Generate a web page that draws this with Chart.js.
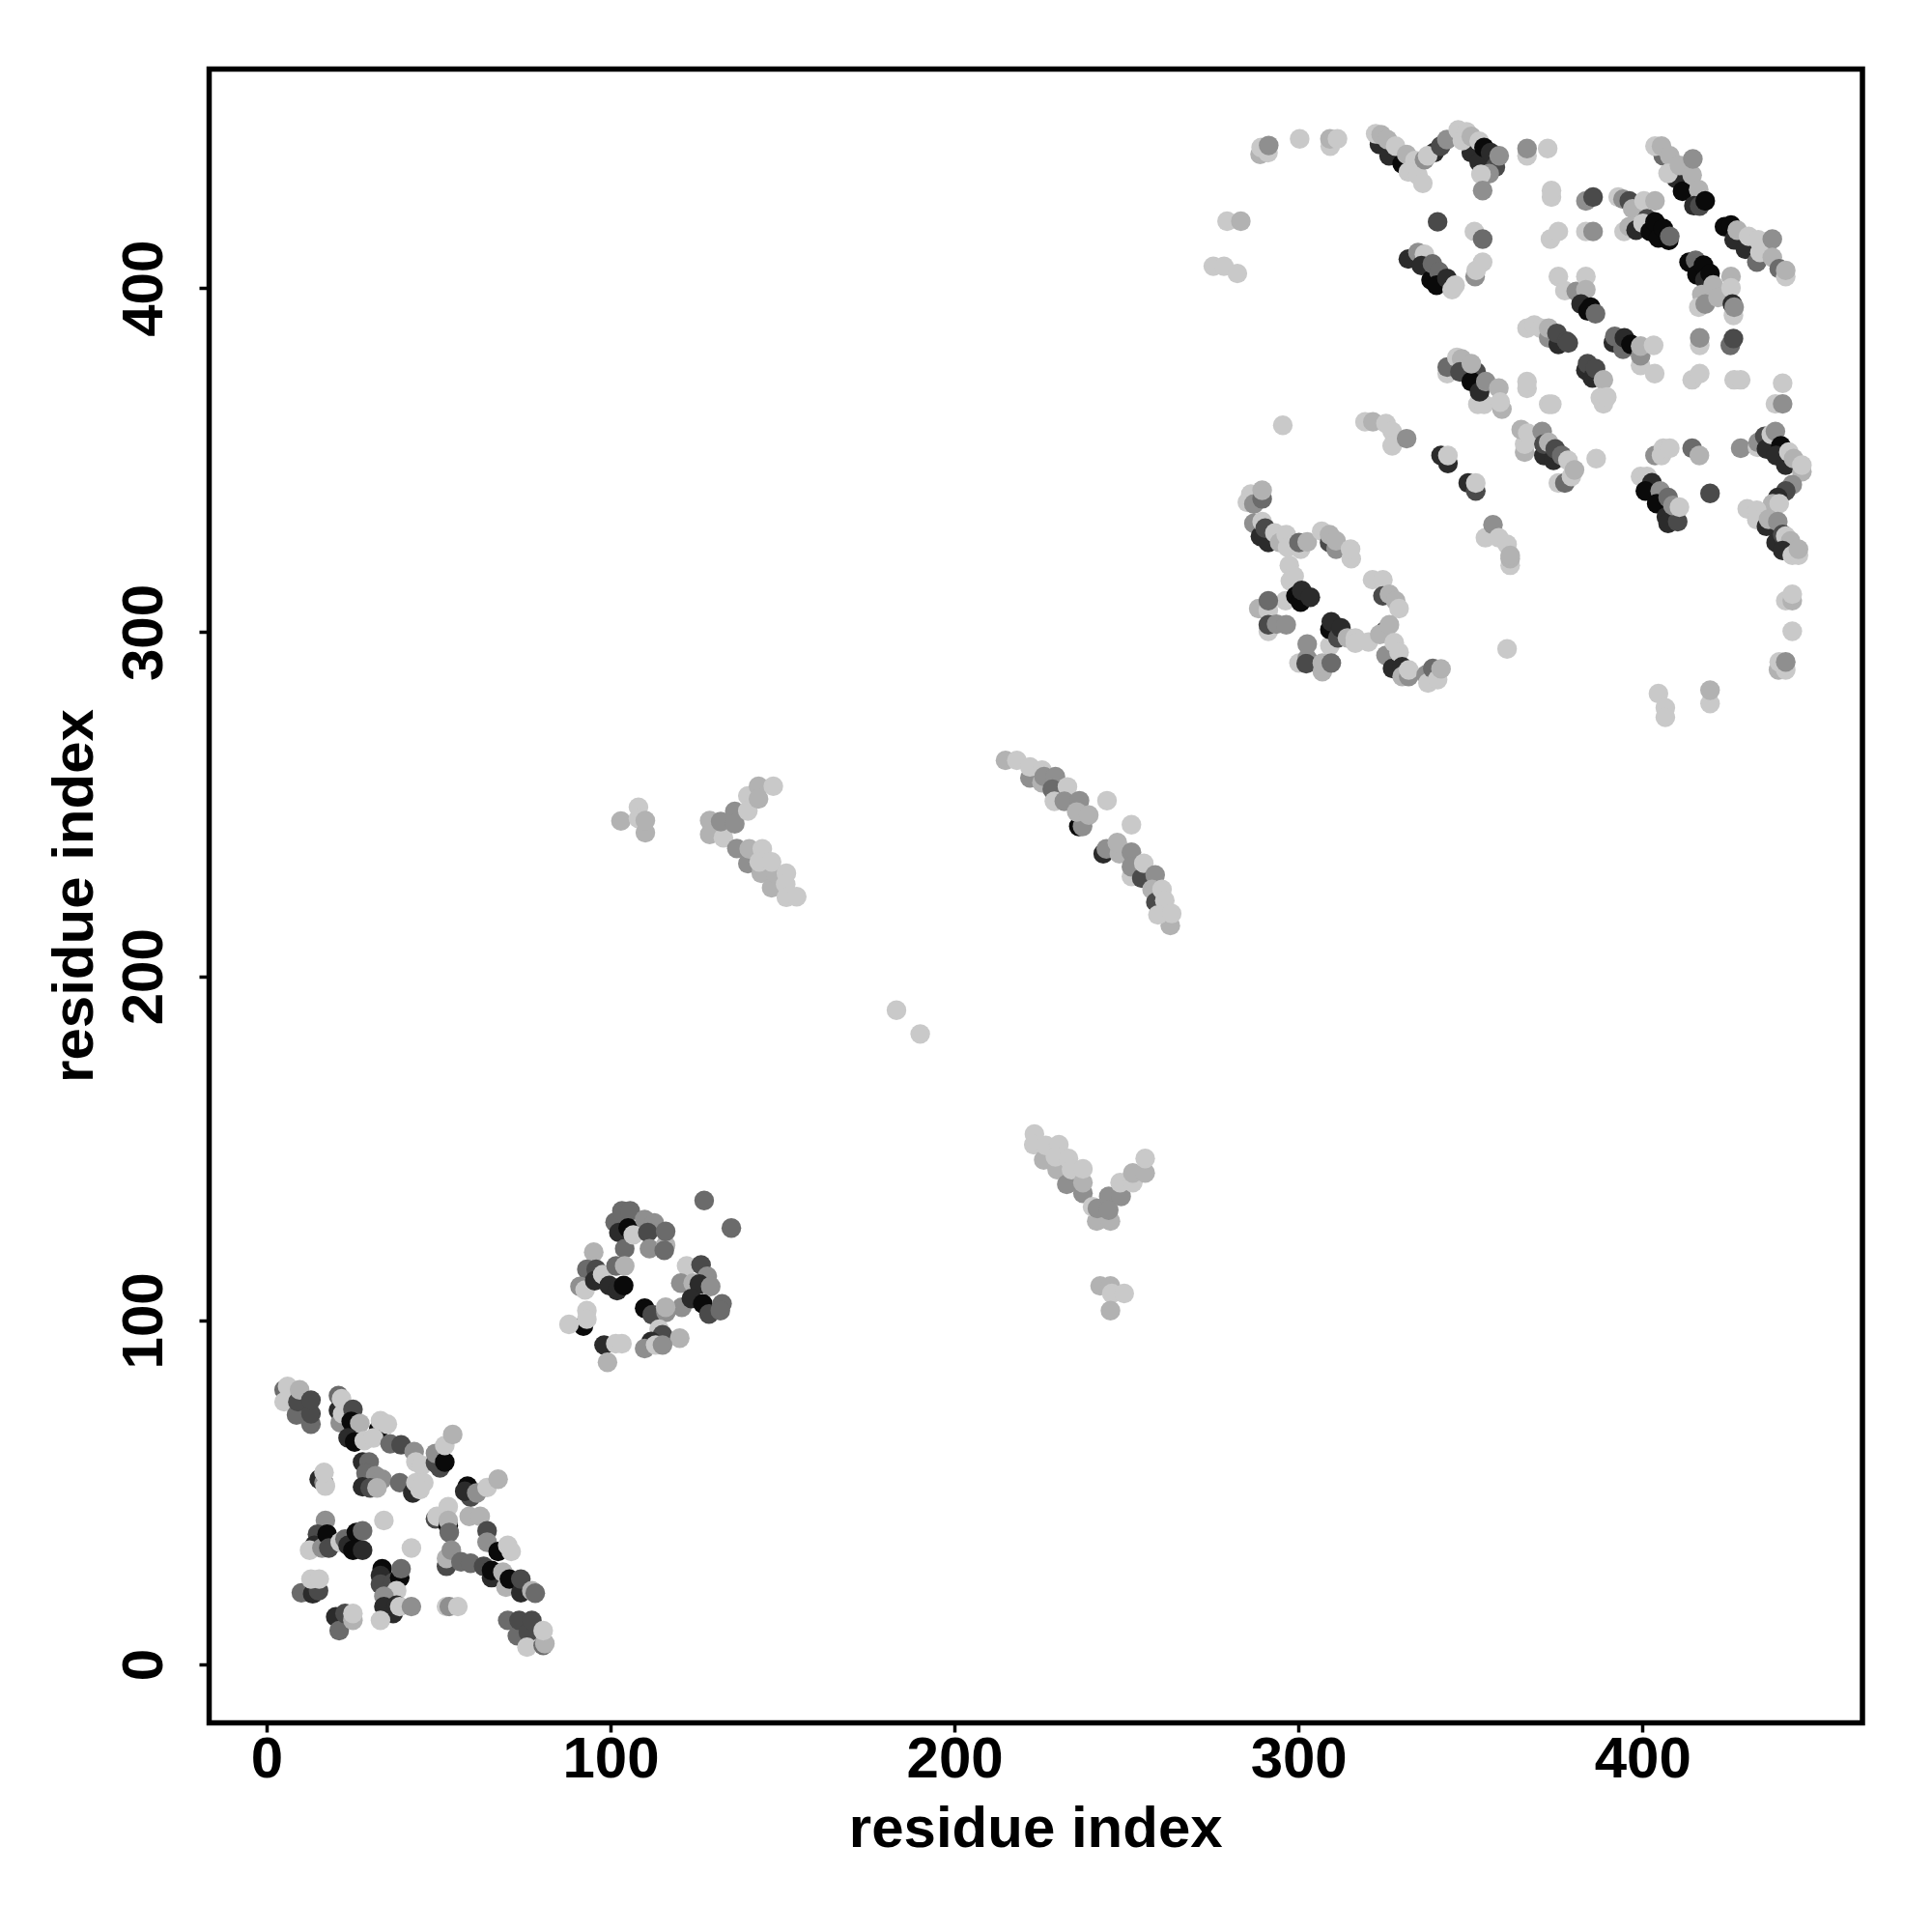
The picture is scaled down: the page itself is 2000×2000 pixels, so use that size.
<!DOCTYPE html>
<html>
<head>
<meta charset="utf-8">
<style>
  html, body { margin: 0; padding: 0; background: #fff; }
  canvas { display: block; }
</style>
<script src="https://cdn.jsdelivr.net/npm/chart.js@4/dist/chart.umd.min.js"></script>
</head>
<body>
<canvas id="contactMap" width="2000" height="2000"></canvas>
<script>
// each contact is [residue x, residue y, strength 1..7]
const helixBundleA = [
[5,80,4],[5,76.5,1],[6,81,1],[8.6,72.7,4],[9,76.5,5],[9.5,80,2],[12.8,70,4],[12.8,73,5],[12.8,77,5],
[20.8,78.3,4],[20.8,74,6],[21.7,77.4,1],[21.3,70.4,3],[22,73,1],[25,74.3,5],[24.5,70.8,7],[27,70.2,2],[23.6,66,6],[25.5,64.8,7],[28.3,65.2,1],
[32.5,68.5,7],[33,71,1],[35,70,1],[31,66,1],[35.8,64.3,4],[39,64,5],[42.8,62,3],[43.3,59,1],[45,58,1],
[27.8,59,6],[29.7,59,4],[28.8,55.8,4],[31.6,55,3],[33.5,54,3],[27.8,51.8,6],[30,51.5,5],[32,51.5,2],
[38.6,53,4],[42.4,50,6],[43.3,53,1],[45.6,53,1],[44.5,51,1],
[15.2,54,6],[16.6,53,3],[17,52,1],[16.6,56,1],
[49,58.7,5],[50.3,57.3,5],[49,61.5,3],[51.7,59,7],[51.7,63.8,1],[54,67,2],
[58.3,52,7],[59.2,48.8,5],[57.5,50.5,6],[61,50,3],[64,51.6,1],[67.2,54,2],
[49,42.5,5],[49.4,43.2,1],[52.7,40.5,7],[52.7,46,1],[52.7,42,2],[53,38.5,4],[58.8,43.2,2],[62,43.2,2],
[64,39,5],[64,35.7,3],[67.2,33,7],[70,34.8,1],[71,33,1],
[52.2,28.7,5],[52.2,31,2],[53.6,33.4,3],[56.4,30,4],[59.2,29.6,4],[63,28.7,5],[65.3,25.4,6],[65.3,27.5,7],[68.6,27,2],
[69.5,22.6,2],[70.5,25,7],[73.8,21,6],[73.8,25,5],[77,21.6,2],[78,20.9,4],
[70,13,4],[72.8,8.5,4],[73.3,13,5],[76,9.5,5],[77,13,5],[75.6,5.2,1],[80.3,5.7,4],[80.8,6.2,2],[80.3,10,1],
[17,42,3],[14.7,38,5],[13.8,34.8,6],[12.4,33.4,1],[16,34,3],[17.5,38,7],[18,34,5],[21.3,35.7,1],[22.7,36.6,4],[23.6,34.8,6],[26,38.5,7],[25,33.4,7],[27.8,33.4,6],[27.8,39,4],
[34,42,1],[42,34,1],
[33.5,28,7],[33,26,6],[33,23.5,5],[36.7,24,5],[38.6,25.4,7],[39,28,4],[37.7,21.6,1],[34,20,3],[34,17,6],[36.7,15,6],[37.7,17.4,6],[33,13,1],[38.6,17,1],[42,17,3],
[52.2,17,1],[53,17,3],[55.5,17,1],
[10,21,4],[13.3,20.7,6],[15,21.6,5],[12.8,25,1],[15.2,25,1],
[20,14,6],[21,10,4],[22.7,15,5],[25,13,2],[25,15,1]
];

const helixBundleB = [
[127.1,135,4],[135,127,4],
[101.2,128.7,4],[103.2,132,4],[105.6,132,4],[102.3,125.7,6],[104,121,4],[105,127,7],[106.5,125,1],
[109.8,129.5,3],[112.6,128.5,3],[110.7,125.7,5],[111.2,121,3],[115.9,122,2],[115.5,120.5,4],[115.9,126,4],
[95,120,2],[93,115,4],[95.7,115,5],[91,110,3],[92.5,109,1],[95.3,111.7,6],[97.6,113.5,1],[99.5,110.3,6],[101.8,108.8,6],[103.7,110.3,7],[101.5,116,4],[104,116,2],
[122,116,1],[126.2,116.3,5],[128,113,3],[120.3,111,3],[123.9,111,2],[125.7,110.7,6],[129,110,3],
[120.6,104,3],[123.4,106.5,6],[126.7,105,7],[128.5,102,5],[132.3,105,4],[131.8,103,4],
[109.8,103.7,7],[112,101.8,5],[116,102.5,3],[115.9,104,2],[114,97.6,1],[115,96,5],[120,95,2],[111.7,94,6],[109.8,92,3],[113,93,1],[115,93,3],
[92,98.5,7],[87.8,99,1],[93,103,1],[93,100.5,1],
[98,93,6],[99,88,2],[101.4,93.4,1],[103.2,93.4,1]
];

const strandCross = [
[183,190.3,1],[189.9,183.4,1]
];

const leftArrow = [
[102.9,245.3,2],[108,249.3,1],[108,246,1],[110,241.9,2],[110,245.4,2],
[128.7,245.4,2],[128.7,241.4,2],[132.7,240.4,1],[131.9,245.1,3],[136,248.1,3],[136,244.5,3],[139.8,252.6,1],[139.8,248.2,1],[142.9,255.4,2],[142.9,251.7,2],[147.2,255.4,1],
[136.6,237.3,3],[139.8,232.9,3],[140.2,237.2,2],[144,237.2,1],[143.7,230.1,2],[143.1,233.4,1],[146.7,225.9,2],[147.8,230.1,2],[146.7,233.4,1],[151,230.1,1],[150.8,226.9,1],[151,223.1,1],[154,223.3,1]
];

const arcStrand = [
[214.7,262.9,2],[218,262.9,1],[221.8,257.8,3],[221.8,261,1],[225.3,256.4,2],[225.3,260.1,1],[225.9,258.2,3],[229.2,258.2,3],[228.3,254.5,4],[232.7,255.2,1],
[228.9,251,1],[231.8,251,3],[236.2,251.2,3],[244.2,251.2,1],[251.3,244.2,1],
[236,243.7,7],[237.1,243.7,3],[235.4,247.9,2],[238.9,247,2],
[243.1,235.8,6],[244,237.2,3],[247.8,235.8,2],[247.2,239,2],[251.3,229.2,1],[251.3,236.2,3],[251.3,232,3],[254.3,228.7,5],[254.9,233,1],
[258.2,229.6,3],[257.3,225.4,2],[258.4,221.7,5],[260.2,225.4,1],[261,222.2,1],[262.6,214.9,2],[259,218,1],[263,218.4,1]
];

const vStrand = [
[223.1,154.3,1],[222.9,151.2,1],[225.8,146.8,2],[226.4,151,1],[229.7,144,2],[230.2,151.2,1],[229.2,147.7,1],[232.5,139.7,3],[233,147.2,1],[233.9,144,1],[237.2,137.1,3],[237.2,140.2,2],[237.2,144.2,1],
[241.2,129,2],[245.2,129,2],[240,133.2,1],[241.4,132.7,3],[244.7,136.2,3],[244.7,132.2,3],[248.3,136.2,3],[248,140.2,1],[251.7,140.2,1],[251.7,143,2],[255.3,143,2],[255.3,147.2,1],
[242.2,110.2,2],[245.2,110.2,2],[245.6,108,1],[249.2,108,1],[245.2,103,2]
];

const topLeftRun = [
[288.7,439,2],[289,441,1],[291,439.5,1],[291.2,441.6,3],[300.2,443.5,1],[309.1,441.4,1],[309,443.5,2],[311.2,443.5,1],
[279.1,419.6,1],[283.1,419.6,2],[275.1,406.5,1],[278.2,406.5,1],[282.1,404.4,1],
[323.4,441.9,6],[322.3,445,1],[323.9,444.7,2],[326.2,438.6,6],[325.7,443.3,2],[330,436.3,7],[328.1,441.4,1],[331.3,439,2],[333.7,437.2,1],[331.8,433.9,1],[334.6,433,1],[336,430.6,1],
[336.5,437.5,3],[339.3,439.5,6],[337.4,438.6,1],[341.2,441.4,5],[343,443.3,3],
[350.1,439.5,6],[352.4,436.7,6],[346.3,446.1,1],[348.7,445.6,1],[347.5,443,1],[350.1,444.2,2],[352.4,442.8,1],[353.8,441,7],[355.7,439.5,6],[357.1,435.3,5],[355.3,433.4,3],[352.9,433.2,1],[358.2,438.6,3],
[353.4,428.5,3],[340.3,419.4,5],[351,416.6,1],[353.4,414.4,4],[351.2,403.5,3],[353.4,407.7,1],[351.5,405.3,1],
[331.8,408.6,6],[334.6,410.5,3],[336.5,410,1],[335.6,406.7,6],[338.4,402.5,7],[338.8,407.2,4],[340.7,404.9,4],[340,401,7],[343,403,6],[344.5,399.7,1],[345.4,401,1]
];

const topRightRun = [
[366.3,438.6,1],[366.3,440.7,3],[372.3,440.7,1],[373.4,426.6,1],[373.4,428.5,1],[383.4,425.5,3],[385.5,426.6,5],[373.1,414.4,1],[375.4,416.6,1],[383.4,416.6,1],[385.5,416.6,3],
[392.8,426.6,1],[394.2,426,3],[396,425.5,5],[397,423.2,2],[394.5,416.6,1],[396,418,2],[398,417,6],[400.3,425.5,1],[403.5,425.5,2],[401.2,420.3,5],[400,419,1],
[402.1,416.6,7],[403.5,419.4,7],[404.5,414.7,7],[405.9,417.5,7],[407.5,414,7],[407.8,415.2,4],
[405.9,438.6,4],[403.5,441.4,1],[405.4,441.4,2],[407.8,438.6,2],[409.6,432,6],[407.3,433.5,1],[411.5,428.3,7],[410.6,435.8,2],[414.3,433,2],[416.2,428.8,2],[414.5,437.7,3],[414.8,424.1,6],[416.5,424,5],[418.1,425.5,7],
[423.7,418,7],[425.6,418.5,7],[426.5,414.2,6],[427.4,417,2],[429.8,411.4,6],[430.7,415.2,1],[433.1,407.7,4],[433.5,414.2,1],[434,410.5,1],[437.6,414.4,3],[437.6,409.1,2],[439.6,405.8,4],[441.5,403.5,1],[441.5,405.3,2],
[413.4,407.7,7],[415.3,408.2,4],[415.7,404,7],[417.6,406.8,7],[418,402.5,6],[419.5,404.4,7],[417.1,398.3,2],[420.4,401.1,2],[416.2,394.6,1],[418.1,395.5,3],[421.8,397.4,2],[425.6,403.5,2],[425.6,400.2,1],[426,395.5,6],[426.3,392.2,1],[426.5,394.6,3],
[375.4,403.5,1],[377.3,399.4,1],[380.6,399.2,3],[383.4,403.5,1],[383.4,399.7,2],[382,395.5,6],[384,393.5,7],[384.8,394.6,7],[386.2,392.7,4],
[366.3,388.5,1],[368.4,389.4,1],[370.3,388.5,1],[372.6,385.7,3],[372.6,388.5,2],[375.4,383.8,6],[375,387,5],[377.8,384.7,5],[378.3,384.2,5],
[391.4,384.3,6],[391.8,386.1,4],[394.2,382.4,4],[394.6,385.7,6],[396.5,383.8,7],[399.3,377.7,1],[399.3,380.5,3],[399.3,383.3,2],[403.1,383.5,1],[403.4,375.3,1],
[383.4,376.3,6],[383.9,378.2,5],[385.3,374,6],[386.2,376.8,5],[388.5,373.5,2],[387.6,368.3,1],[388.5,366.5,1],[389.5,368.5,1],
[416.5,383.5,1],[416.5,385.7,3],[425.4,383.5,4],[426.3,385.5,5],[414.3,373.5,1],[416.5,375.3,1],[426.5,373.5,1],[428.4,373.5,1],[440.6,372.5,1],[438.5,366.5,1],[440.6,366.5,3],
[366.3,371,1],[366.3,373,1],[372.6,366.4,1],[373.5,366.4,1]
];

const middleRun = [
[343.1,375.3,1],[343.1,377.2,4],[345.9,380,1],[347.3,379.6,2],[346.8,375.8,5],[351.5,375.8,5],[350.1,373,7],[350.1,378.2,2],[352,366.4,1],[353.8,366.4,1],[352.5,370,6],[354.3,373,3],[358.1,371.1,2],[359,365,2],[358.5,367,1],
[295.3,360.3,1],[319.2,361.3,1],[321.5,361.3,2],[325.3,360.8,1],[327.1,358.5,1],[327.1,354.3,1],[331.3,356.4,3],
[341.3,351.5,6],[343.3,349.2,6],[343.3,351.5,1],[349.2,343.5,6],[351.4,341.2,5],[351.4,343.5,1],[354.2,327.6,1],[356.4,331.4,3],[358.1,327.6,1],[360.5,325.7,1],[361.4,319.6,1],[361.4,321.5,2],[361.4,322.5,2]
];

const lowerLoop = [
[286,340.3,1],[285,337.9,1],[286.9,337.4,3],[289.3,338.9,4],[289.3,341.4,2],[286.9,331.8,3],[288.8,328,6],[289.3,332.3,1],[291.1,326.2,6],[290.2,330.4,5],[293,329,1],[294.4,326.2,2],[296.3,328.5,1],[296.7,324.8,1],[300.5,324.3,1],[300,326.2,4],[302.4,326.4,2],
[297.2,319.6,1],[298.6,316.4,1],[297.5,315,1],[296.1,309.3,1],[299.1,310.7,7],[300.5,308.9,7],[300.8,312.3,6],[303.3,310.3,6],
[306.6,329.5,1],[308.9,326.2,5],[308.9,328.5,2],[310.8,324.3,3],[310.8,326.7,2],[315.2,321.5,1],[315,324.3,1],
[321.4,315.4,1],[324.4,315.4,1],[324.4,310.7,5],[326.3,311.2,2],[328.1,309.3,2],[329.1,307,1],
[309,296.2,1],[309,300.9,7],[309.4,303.2,6],[311.3,298.5,5],[312.2,301.4,6],[314.1,298.5,2],[316.4,298.5,1],[316.4,297,1],[320.2,297.3,1],
[325,300.5,5],[323.5,299.5,2],[326.3,302.3,2],[325.3,293.4,3],[327.2,289.6,6],[327.7,297.1,1],[329.1,294.3,1],[330,290.1,6],[330,287.3,2],[331.9,287.3,3],[331.9,289.2,1],
[337,287.8,3],[337.5,285.4,1],[338.9,289.6,4],[340.3,286.4,1],[341.3,289.5,2],[360.5,295.3,1],
[288.3,307,2],[291.1,306.5,1],[291.1,309.3,4],[291.1,300.4,1],[291.1,302.3,5],[293.5,302.5,3],[296.3,302.3,3],
[300,291.2,1],[302.4,292.5,3],[302.1,291,5],[302.4,296.7,3],[306.8,288.7,2],[306.8,291.2,2],[309.4,291.2,4]
];

const rightRun = [
[365.6,352.5,2],[365.6,354.8,1],[364.6,359,2],[366.5,358,1],[370.7,358.5,3],[371.2,351.5,6],[371.2,354.8,5],[372.6,355.3,2],[374,350.1,6],[374.5,353.4,5],[376.4,351.5,4],[375.4,343.5,1],[377.3,343.5,4],[378.2,350.1,1],[379.2,345.4,1],[380.1,347.3,2],[386.4,350.6,1],
[403.5,351.5,3],[405.4,351.5,1],[405.9,353.6,1],[407.8,353.6,1],[414.3,353.6,4],[416.4,351.5,2],[428.4,353.6,3],[419.5,340.5,5],
[399.3,345.4,1],[401.2,345.4,1],[402.6,343.6,6],[400.7,341.2,7],[405,341.2,3],[404,337.5,7],[407.3,339.3,4],[406.8,333.7,6],[407.3,331.8,6],[410.1,332.3,5],[408.7,337,3],[410.6,336.5,1],
[433.3,353.9,1],[433.5,355.3,3],[435.4,357.1,5],[435.9,353.4,6],[437.3,357.6,1],[438.5,358.5,3],[440.1,354.3,7],[438.7,351.5,6],[441.5,348.7,6],[442.4,352.5,1],[443.8,350.6,2],[446.2,346.8,2],[446.2,348.7,1],
[443.4,343,3],[441.5,341.2,5],[439.2,339.3,6],[437.7,337.5,2],[439.6,337.5,1],
[430.3,336,1],[433.1,335.6,1],[433.1,332.8,1],[435.9,330.9,6],[436.5,333,2],[439.2,332.3,3],[438.7,326.2,6],[440.6,328.6,5],[441.5,328.1,1],[442.9,326.7,2],[440.6,323.9,6],[443.4,322.5,1],[445.2,322.5,1],[445.2,324.3,2],
[441.5,309.3,1],[443.4,309.3,2],[443.4,311.2,1],[443.4,300.4,1],[439.4,289.2,2],[439.6,291.5,1],[441.5,289.2,1],[441.5,291.5,3],
[404.5,282.3,1],[406.5,278.2,1],[406.5,275.4,1],[419.5,279.4,1],[419.5,283.3,2]
];

const contactGroups = [helixBundleA, helixBundleB, strandCross, leftArrow, arcStrand, vStrand, topLeftRun, topRightRun, middleRun, lowerLoop, rightRun];
const xTickValues = [0, 100, 200, 300, 400];
const yTickValues = [0, 100, 200, 300, 400];
const axisTitle = "residue index";

// strength -> grey, index 0 unused
const greys = ["#ffffff", "#c9c9c9", "#b2b2b2", "#8f8f8f", "#6b6b6b", "#4a4a4a", "#2b2b2b", "#0a0a0a"];
const labelFont = { family: "'Liberation Sans', Arial, sans-serif", size: 60, weight: "bold", lineHeight: 1 };

// box round the plot, R style
const framePlugin = {
    id: "frame",
    afterDatasetsDraw(chart) {
        const a = chart.chartArea;
        const ctx = chart.ctx;
        ctx.save();
        ctx.lineWidth = 5.5;
        ctx.strokeStyle = "#000";
        ctx.strokeRect(a.left, a.top, a.width, a.height);
        ctx.restore();
    }
};

function fixedTicks(values) {
    return axis => { axis.ticks = values.map(v => ({ value: v })); };
}

new Chart(document.getElementById("contactMap"), {
    type: "scatter",
    data: {
        datasets: contactGroups.map(group => ({
            data: group.map(p => ({ x: p[0], y: p[1] })),
            pointBackgroundColor: group.map(p => greys[p[2]]),
            pointBorderWidth: 0,
            pointRadius: 10.2,
            clip: false
        }))
    },
    options: {
        responsive: false,
        animation: false,
        devicePixelRatio: 1,
        layout: { padding: { top: 71.5, right: 72, left: 0, bottom: 0 } },
        plugins: { legend: { display: false }, tooltip: { enabled: false } },
        scales: {
            x: {
                type: "linear",
                min: -16.8,
                max: 463.8,
                afterBuildTicks: fixedTicks(xTickValues),
                afterFit(axis) { axis.height = 216.5; },
                border: { display: false },
                grid: { drawOnChartArea: false, drawTicks: true, tickLength: 10, tickWidth: 3.5, tickColor: "#000" },
                ticks: { color: "#000", font: labelFont, padding: 0, maxRotation: 0, minRotation: 0, autoSkip: false },
                title: { display: true, text: axisTitle, color: "#000", font: labelFont, padding: { top: 0, bottom: 75 } }
            },
            y: {
                type: "linear",
                min: -16.8,
                max: 463.8,
                afterBuildTicks: fixedTicks(yTickValues),
                afterFit(axis) { axis.width = 216.5; },
                border: { display: false },
                grid: { drawOnChartArea: false, drawTicks: true, tickLength: 10, tickWidth: 3.5, tickColor: "#000" },
                ticks: { color: "#000", font: labelFont, padding: 5, minRotation: 90, maxRotation: 90, crossAlign: "center", autoSkip: false },
                title: { display: true, text: axisTitle, color: "#000", font: labelFont, padding: { top: 49, bottom: 0 } }
            }
        }
    },
    plugins: [framePlugin]
});
</script>
</body>
</html>
